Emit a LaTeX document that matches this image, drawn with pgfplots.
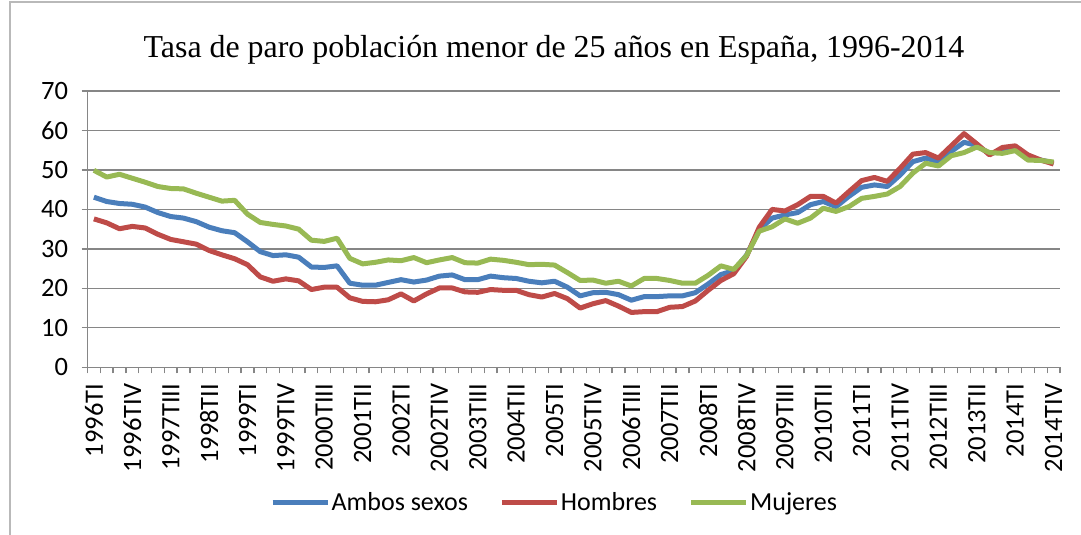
\documentclass[border=0pt]{standalone}
\usepackage{fontspec}
\setmainfont{Carlito}
\newfontfamily\titlefont{Liberation Serif}
\usepackage{pgfplots}
\usepackage{pgfplotstable}
\pgfplotsset{compat=1.18}

\definecolor{cAmbos}{HTML}{4A7EBB}
\definecolor{cHombres}{HTML}{BE4B48}
\definecolor{cMujeres}{HTML}{98B954}
\definecolor{cGrid}{HTML}{868686}

% i = quarter index from 1996TI
\pgfplotstableread{
i  ambos hombres mujeres
0  43.1  37.6  49.9
1  42.0  36.6  48.2
2  41.5  35.1  48.9
3  41.3  35.7  47.9
4  40.6  35.3  46.9
5  39.2  33.7  45.8
6  38.2  32.4  45.3
7  37.8  31.8  45.2
8  36.9  31.2  44.1
9  35.5  29.6  43.1
10 34.6  28.5  42.1
11 34.1  27.5  42.3
12 31.8  26.0  38.8
13 29.3  22.9  36.7
14 28.3  21.8  36.2
15 28.5  22.4  35.8
16 27.9  21.9  35.0
17 25.4  19.7  32.2
18 25.3  20.3  31.9
19 25.7  20.3  32.7
20 21.3  17.6  27.6
21 20.8  16.7  26.2
22 20.8  16.6  26.6
23 21.5  17.1  27.2
24 22.2  18.6  27.0
25 21.6  16.8  27.8
26 22.1  18.6  26.5
27 23.1  20.1  27.2
28 23.4  20.1  27.8
29 22.2  19.1  26.5
30 22.2  19.0  26.4
31 23.1  19.7  27.4
32 22.7  19.5  27.1
33 22.5  19.5  26.6
34 21.8  18.4  26.0
35 21.4  17.8  26.1
36 21.8  18.7  25.9
37 20.3  17.4  24.0
38 18.1  15.0  22.0
39 18.9  16.1  22.1
40 19.0  16.9  21.3
41 18.4  15.5  21.8
42 17.0  13.9  20.6
43 17.9  14.1  22.5
44 17.9  14.1  22.5
45 18.1  15.2  22.0
46 18.1  15.4  21.3
47 18.9  16.8  21.3
48 21.1  19.5  23.3
49 23.5  22.0  25.7
50 24.5  23.7  24.8
51 28.4  28.1  28.3
52 34.9  35.5  34.5
53 37.8  40.0  35.6
54 38.6  39.6  37.6
55 39.2  41.2  36.5
56 41.2  43.3  37.8
57 42.0  43.3  40.3
58 40.7  41.6  39.5
59 43.3  44.5  40.7
60 45.6  47.3  42.8
61 46.2  48.1  43.3
62 45.8  47.1  43.9
63 48.7  50.4  45.8
64 52.1  54.0  49.2
65 53.0  54.4  51.7
66 52.1  53.0  51.0
67 54.7  56.1  53.6
68 57.0  59.2  54.4
69 56.2  56.6  55.8
70 54.1  53.8  54.4
71 54.9  55.7  54.2
72 55.5  56.1  54.9
73 53.2  53.8  52.5
74 52.5  52.5  52.4
75 51.8  51.5  52.0
}\paro

\begin{document}
\begin{tikzpicture}[x=1pt,y=1pt]
\draw[gray!55, line width=1.2pt] (10,0) -- (10,533) -- (1081,533);
\node[font=\titlefont\fontsize{31.9}{38}\selectfont, anchor=base] at (554,477)
  {Tasa de paro población menor de 25 años en España, 1996-2014};
\begin{axis}[
    at={(93.9pt,167.7pt)}, anchor=origin,
    scale only axis, width=972.5pt, height=276.3pt,
    xmin=-0.5, xmax=75.5, ymin=0, ymax=70,
    axis x line=bottom, axis y line=left,
    axis line style={-, draw=cGrid, line width=1.3pt},
    ytick={0,10,...,70},
    ymajorgrids, grid style={cGrid, line width=1.3pt},
    xtick={0,3,...,75},
    xticklabels={1996TI,1996TIV,1997TIII,1998TII,1999TI,1999TIV,2000TIII,2001TII,2002TI,2002TIV,2003TIII,2004TII,2005TI,2005TIV,2006TIII,2007TII,2008TI,2008TIV,2009TIII,2010TII,2011TI,2011TIV,2012TIII,2013TII,2014TI,2014TIV},
    minor xtick={-0.5,0.5,...,75.5},
    tick align=outside,
    major tick length=6pt, minor tick length=6pt,
    major x tick style={draw=none},
    minor x tick style={draw=cGrid, line width=1.3pt},
    major y tick style={draw=cGrid, line width=1.3pt},
    /pgf/number format/assume math mode=true,
    tick label style={font=\fontsize{26.5}{30}\selectfont, text=black},
    xticklabel style={rotate=90, anchor=east},
    xticklabel shift=7pt,
    yticklabel shift=10pt,
    legend style={at={(0.480,-0.490)}, anchor=center, draw=none,
        legend columns=3, font=\fontsize{26}{30}\selectfont,
        nodes={inner sep=1.5pt},
        /tikz/every even column/.append style={column sep=30pt}},
    legend image code/.code={\draw[#1] (0pt,0pt) -- (55pt,0pt);},
    every axis plot/.append style={line width=5pt, line join=round, no markers},
]
\addplot[cAmbos] table[x=i, y=ambos] {\paro};
\addplot[cHombres] table[x=i, y=hombres] {\paro};
\addplot[cMujeres] table[x=i, y=mujeres] {\paro};
\legend{Ambos sexos, Hombres, Mujeres}
\end{axis}
\pgfresetboundingbox
\useasboundingbox (0,0) rectangle (1081,535);
\end{tikzpicture}
\end{document}
